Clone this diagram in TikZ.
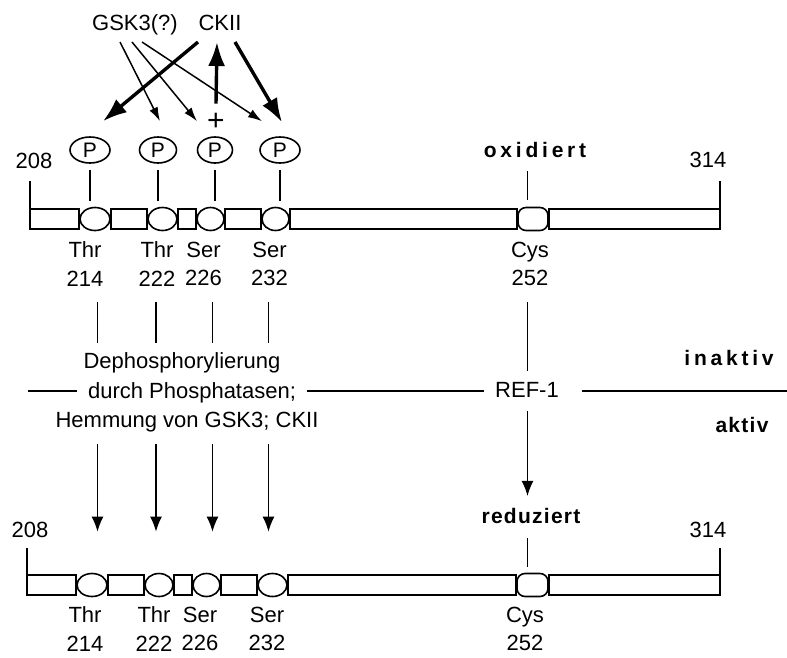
\documentclass[tikz,border=0pt]{standalone}
\usepackage{fontspec}
\setmainfont{Liberation Sans}
\newfontfamily\widebold[LetterSpace=18]{Liberation Sans}
\newfontfamily\halfbold[LetterSpace=6]{Liberation Sans}
\usepackage{tikz}
\usetikzlibrary{shapes,arrows.meta,calc,positioning}
\tikzset{
    site/.style={
        ellipse, draw, fill=white,
        minimum height=23pt, inner sep=0pt
    },
    cyssite/.style={
        rectangle, rounded corners=8pt, draw, fill=white,
        minimum width=30pt, minimum height=23pt, inner sep=0pt
    },
    pcircle/.style={
        ellipse, draw, minimum height=26pt, inner sep=0pt,
        font=\fontsize{21}{21}\selectfont
    },
    redox/.style={font=\fontsize{21}{21}\selectfont\widebold\bfseries},
    activity/.style={font=\fontsize{21}{21}\selectfont\halfbold\bfseries},
    kinase/.style={-{Latex[length=14pt,width=9pt]}, line width=1.5pt},
    ckarrow/.style={-{Latex[length=24pt,width=17pt]}, line width=3.4pt},
    downarrow/.style={-{Latex[length=15pt,width=12pt]}, line width=1.6pt}
}
\begin{document}
\begin{tikzpicture}[
        x=1pt, y=-1pt,
        line width=1.6pt,
        every node/.style={inner sep=0pt, font=\fontsize{22}{28.5}\selectfont},
    ]
    \path[fill=white, use as bounding box] (0,0) rectangle (787,657);

    % columns of the phosphorylation sites
    \coordinate (c214) at (97.5,0);
    \coordinate (c222) at (156,0);
    \coordinate (c226) at (212.5,0);
    \coordinate (c232) at (268.5,0);
    \coordinate (ccys) at (527.5,0);

    % kinases and phosphate groups
    \node[anchor=base] (gsk) at (135,30) {GSK3(?)};
    \node[anchor=base] (ck) at (220,30) {CKII};
    \node[pcircle, minimum width=40pt] (p214) at (90,150) {P};
    \node[pcircle, minimum width=37pt] (p222) at (158,150) {P};
    \node[pcircle, minimum width=35pt] (p226) at (215,150) {P};
    \node[pcircle, minimum width=40pt] (p232) at (280,150) {P};
    \node[font=\fontsize{30}{30}\selectfont] (plus) at (216,122) {+};
    \draw[kinase] ([xshift=-15pt,yshift=-12pt]gsk.base) -- ([xshift=2pt,yshift=15pt]p222.north);
    \draw[kinase] ([xshift=-3pt,yshift=-12pt]gsk.base) -- ([xshift=-18pt,yshift=15pt]p226.north);
    \draw[kinase] ([xshift=7pt,yshift=-12pt]gsk.base) -- ([xshift=-18pt,yshift=15pt]p232.north);
    \draw[ckarrow] ([xshift=-22pt,yshift=-12pt]ck.base) -- ([xshift=13pt,yshift=15pt]p214.north);
    \draw[ckarrow] ([xshift=15pt,yshift=-12pt]ck.base) -- ([xshift=2pt,yshift=14pt]p232.north);
    \draw[ckarrow] ([yshift=9pt]plus.north) -- ([xshift=-3pt,yshift=-12pt]ck.base);

    % oxidized protein
    \coordinate (oxL) at (30,209);
    \coordinate (oxB) at (30,229);
    \coordinate (oxR) at (720,209);
    \node[site, minimum width=30pt] (ox214) at (95,219) {};
    \node[site, minimum width=29pt] (ox222) at (162.5,219) {};
    \node[site, minimum width=27pt] (ox226) at (210.5,219) {};
    \node[site, minimum width=27pt] (ox232) at (275.5,219) {};
    \node[cyssite] (oxcys) at (533,219) {};
    \draw (oxL) rectangle (ox214.west |- oxB);
    \draw (ox214.east |- oxL) rectangle (ox222.west |- oxB);
    \draw (ox222.east |- oxL) rectangle (ox226.west |- oxB);
    \draw (ox226.east |- oxL) rectangle (ox232.west |- oxB);
    \draw (ox232.east |- oxL) rectangle (oxcys.west |- oxB);
    \draw (oxcys.east |- oxL) rectangle (oxR |- oxB);
    \node[anchor=base] (ox208) at (34,168) {208};
    \node[anchor=base] (ox314) at (708,167) {314};
    \draw[shorten <=12pt] (oxL |- ox208.south) -- (oxL);
    \draw[shorten <=13pt] (oxR |- ox314.south) -- (oxR);
    \draw[shorten <=6pt, shorten >=6pt] (p214.south) -- (p214.south |- ox214.north);
    \draw[shorten <=6pt, shorten >=6pt] (p222.south) -- (p222.south |- ox222.north);
    \draw[shorten <=6pt, shorten >=6pt] (p226.south) -- (p226.south |- ox226.north);
    \draw[shorten <=6pt, shorten >=6pt] (p232.south) -- (p232.south |- ox232.north);
    \node[anchor=base, redox] (oxlab) at (535,157) {oxidiert};
    \draw[shorten <=13pt, shorten >=7pt] (ccys |- oxlab.south) -- (ccys |- oxcys.north);
    \node[anchor=south, align=center] (oxn214) at (85,287) {Thr\\214};
    \node[anchor=south, align=center] (oxn222) at (157,287) {Thr\\222};
    \node[anchor=south, align=center] (oxn226) at (203.5,287) {Ser\\226};
    \node[anchor=south, align=center] (oxn232) at (269.5,287) {Ser\\232};
    \node[anchor=south, align=center] (oxn252) at (530,287) {Cys\\252};

    % dephosphorylation and reduction
    \node[anchor=base] (dephos) at (182,368) {Dephosphorylierung};
    \node[anchor=base, inner xsep=10pt] (durch) at (192,398) {durch Phosphatasen;};
    \node[anchor=base] (hemm) at (187,427) {Hemmung von GSK3; CKII};
    \node[anchor=base, inner xsep=10pt] (ref) at (527,397) {REF-1};
    \node[anchor=base, redox] (inakt) at (729,365) {inaktiv};
    \node[anchor=base, activity] (akt) at (742,432) {aktiv};
    \coordinate (lineL) at (28,391);
    \coordinate (lineR) at (787,391);
    \draw (lineL) -- (lineL -| durch.west);
    \draw (lineL -| durch.east) -- (lineL -| ref.west);
    \draw ([xshift=12pt]lineL -| ref.east) -- (lineR);
    \draw[shorten <=15pt, shorten >=8pt] (c214 |- oxn214.south) -- (c214 |- dephos.north);
    \draw[shorten <=15pt, shorten >=8pt] (c222 |- oxn222.south) -- (c222 |- dephos.north);
    \draw[shorten <=15pt, shorten >=8pt] (c226 |- oxn226.south) -- (c226 |- dephos.north);
    \draw[shorten <=15pt, shorten >=8pt] (c232 |- oxn232.south) -- (c232 |- dephos.north);
    \draw[shorten <=15pt, shorten >=10pt] (ccys |- oxn252.south) -- (ccys |- ref.north);

    % reduced protein
    \coordinate (redL) at (27,575);
    \coordinate (redB) at (27,595);
    \coordinate (redR) at (720,575);
    \node[site, minimum width=30pt] (red214) at (92,585) {};
    \node[site, minimum width=28pt] (red222) at (159,585) {};
    \node[site, minimum width=27pt] (red226) at (206.5,585) {};
    \node[site, minimum width=29pt] (red232) at (272.5,585) {};
    \node[cyssite, minimum width=31pt] (redcys) at (532.5,585) {};
    \draw (redL) rectangle (red214.west |- redB);
    \draw (red214.east |- redL) rectangle (red222.west |- redB);
    \draw (red222.east |- redL) rectangle (red226.west |- redB);
    \draw (red226.east |- redL) rectangle (red232.west |- redB);
    \draw (red232.east |- redL) rectangle (redcys.west |- redB);
    \draw (redcys.east |- redL) rectangle (redR |- redB);
    \node[anchor=base] (red208) at (30,537) {208};
    \node[anchor=base] (red314) at (708,537) {314};
    \draw[shorten <=10pt] (redL |- red208.south) -- (redL);
    \draw[shorten <=10pt] (redR |- red314.south) -- (redR);
    \node[anchor=base, activity] (redlab) at (531,523) {reduziert};
    \draw[shorten <=14pt, shorten >=6pt] (ccys |- redlab.south) -- (ccys |- redcys.north);
    \draw[downarrow, shorten <=12pt, shorten >=41pt] (c214 |- hemm.south) -- (c214 |- red214.north);
    \draw[downarrow, shorten <=12pt, shorten >=41pt] (c222 |- hemm.south) -- (c222 |- red222.north);
    \draw[downarrow, shorten <=12pt, shorten >=41pt] (c226 |- hemm.south) -- (c226 |- red226.north);
    \draw[downarrow, shorten <=12pt, shorten >=41pt] (c232 |- hemm.south) -- (c232 |- red232.north);
    \draw[downarrow, shorten <=13pt, shorten >=11pt] (ccys |- ref.south) -- (ccys |- redlab.north);
    \node[anchor=south, align=center] (redn214) at (85,652) {Thr\\214};
    \node[anchor=south, align=center] (redn222) at (154,652) {Thr\\222};
    \node[anchor=south, align=center] (redn226) at (200,652) {Ser\\226};
    \node[anchor=south, align=center] (redn232) at (267,652) {Ser\\232};
    \node[anchor=south, align=center] (redn252) at (525,652) {Cys\\252};
\end{tikzpicture}
\end{document}
